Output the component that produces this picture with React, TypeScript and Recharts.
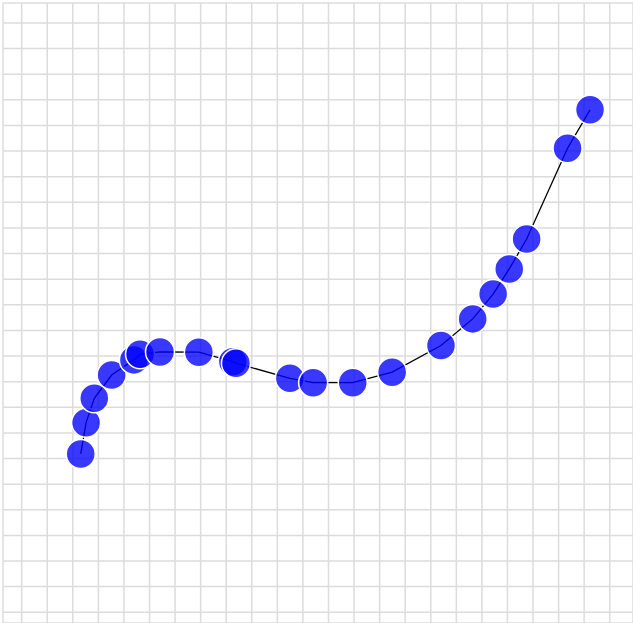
import { ComposedChart, Line, Scatter, XAxis, YAxis, CartesianGrid } from "recharts";

// values, in grid units
const xs = [
  2.31, 2.52, 2.84, 3.52, 4.39, 4.63, 5.41, 6.93, 8.26, 8.38, 10.49, 11.4, 12.95,
  14.49, 16.4, 17.64, 18.44, 19.07, 19.75, 21.35, 22.23,
];
const ys = [
  6.18, 7.4, 8.35, 9.26, 9.85, 10.07, 10.16, 10.15, 9.78, 9.72, 9.13, 8.96, 8.96,
  9.37, 10.41, 11.45, 12.42, 13.4, 14.57, 18.11, 19.61,
];
const gridTicks = Array.from({ length: 24 }, (_, i) => i);

const data = xs.map((x, i) => ({ x, y: ys[i] }));

const Dot = (props: any) => {
  const { cx, cy } = props;
  return (
    <circle
      cx={cx}
      cy={cy}
      r={14.5}
      fill="#0000ff"
      fillOpacity={0.78}
      stroke="#ffffff"
      strokeWidth={1.5}
    />
  );
};

export default function App() {
  return (
    <div style={{ position: "absolute", left: 0, top: 0 }}>
      <ComposedChart
        width={633}
        height={623}
        data={data}
        margin={{ top: 3, left: 3, right: 0, bottom: 0 }}
      >
        <CartesianGrid stroke="#dcdcdc" strokeWidth={1.5} />
        <XAxis
          dataKey="x"
          type="number"
          domain={[-0.73, 23.91]}
          ticks={gridTicks}
          allowDataOverflow
          hide
        />
        <YAxis
          type="number"
          domain={[-0.42, 23.78]}
          ticks={gridTicks}
          allowDataOverflow
          hide
        />
        <Line
          dataKey="y"
          type="linear"
          stroke="#000000"
          strokeWidth={1.3}
          dot={false}
          activeDot={false}
          isAnimationActive={false}
        />
        <Scatter dataKey="y" shape={Dot} isAnimationActive={false} />
      </ComposedChart>
    </div>
  );
}
